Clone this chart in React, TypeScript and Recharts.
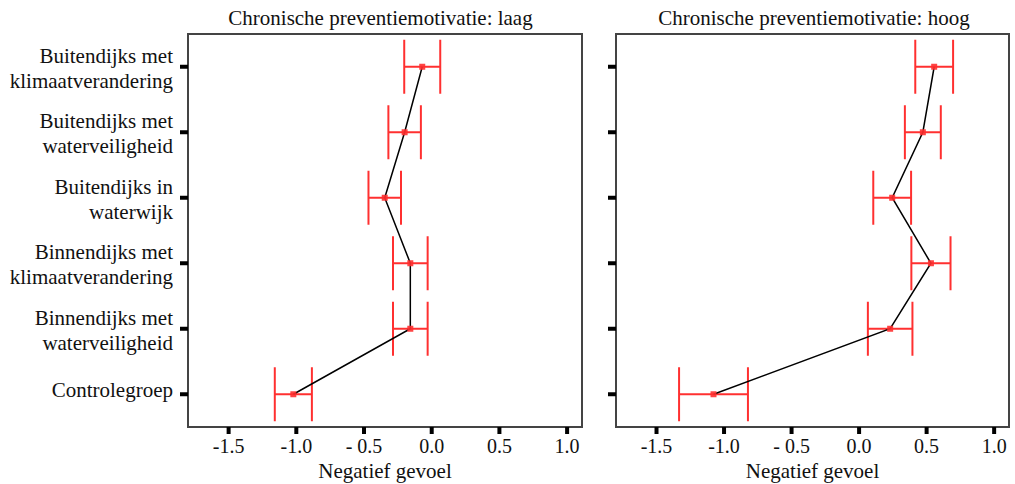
import React from "react";
import {
  ComposedChart,
  ErrorBar,
  Label,
  Line,
  ReferenceArea,
  XAxis,
  YAxis
} from "recharts";

const groups = [
  "Buitendijks met\nklimaatverandering",
  "Buitendijks met\nwaterveiligheid",
  "Buitendijks in\nwaterwijk",
  "Binnendijks met\nklimaatverandering",
  "Binnendijks met\nwaterveiligheid",
  "Controlegroep"
];

const laagMean = [-0.07, -0.2, -0.347, -0.158, -0.158, -1.022];
const laagErr = [0.133, 0.12, 0.12, 0.128, 0.128, 0.137];
const hoogMean = [0.556, 0.472, 0.245, 0.532, 0.23, -1.078];
const hoogErr = [0.14, 0.133, 0.14, 0.145, 0.165, 0.255];

const xTicks = [-1.5, -1.0, -0.5, 0, 0.5, 1.0];
const tickText: Record<string, string> = {
  "-1.5": "-1.5",
  "-1": "-1.0",
  "-0.5": "- 0.5",
  "0": "0.0",
  "0.5": "0.5",
  "1": "1.0"
};

const FONT = '"Liberation Serif", "Times New Roman", serif';
const RED = "#ff3030";

const rows = (means: number[], errs: number[]) =>
  groups.map((g, i) => ({ group: g, mean: means[i], err: errs[i] }));

function GroupTick(props: any) {
  const { x, y, payload } = props;
  const lines = String(payload.value).split("\n");
  const two = lines.length > 1;
  return (
    <text x={x} y={y} textAnchor="end" fontFamily={FONT} fontSize={21} fill="#111">
      {lines.map((l, i) => (
        <tspan key={i} x={x} y={two ? y - 4 + i * 25 : y + 3}>
          {l}
        </tspan>
      ))}
    </text>
  );
}

function SquareDot(props: any) {
  const { cx, cy } = props;
  if (cx == null || cy == null) return null;
  return <rect x={cx - 3} y={cy - 3} width={6} height={6} fill={RED} fillOpacity={0.9} />;
}

function Panel({ means, errs, width, yWidth, right, showLabels }: any) {
  const data = rows(means, errs);
  return (
    <ComposedChart
      width={width}
      height={484}
      data={data}
      layout="vertical"
      margin={{ top: 34, right, bottom: 0, left: 0 }}
    >
      <XAxis
        type="number"
        domain={[-1.8, 1.11]}
        allowDataOverflow
        ticks={xTicks}
        height={57}
        axisLine={false}
        tickSize={7}
        tickMargin={5}
        tickLine={{ stroke: "#000", strokeWidth: 4 }}
        tickFormatter={(v) => tickText[String(v)] ?? String(v)}
        tick={{ fontFamily: FONT, fontSize: 20, fill: "#111" }}
      >
        <Label
          value="Negatief gevoel"
          position="insideBottom"
          offset={6}
          style={{ fontFamily: FONT, fontSize: 21, fill: "#111" }}
        />
      </XAxis>
      <YAxis
        type="category"
        dataKey="group"
        scale="band"
        width={yWidth}
        axisLine={false}
        tickSize={8}
        tickMargin={7}
        tickLine={{ stroke: "#000", strokeWidth: 4 }}
        tick={showLabels ? <GroupTick /> : () => <g />}
        interval={0}
      />
      <ReferenceArea x1={-1.8} x2={1.11} fill="none" stroke="#444" strokeWidth={2} />
      <Line
        dataKey="mean"
        stroke="none"
        dot={<SquareDot />}
        activeDot={false}
        isAnimationActive={false}
      >
        <ErrorBar dataKey="err" direction="x" width={27} stroke={RED} strokeWidth={2} />
      </Line>
      <Line
        dataKey="mean"
        stroke="#000"
        strokeWidth={1.5}
        dot={false}
        activeDot={false}
        isAnimationActive={false}
      />
    </ComposedChart>
  );
}

const titleStyle: React.CSSProperties = {
  position: "absolute",
  top: 8,
  fontFamily: FONT,
  fontSize: 21,
  lineHeight: "20px",
  textAlign: "center",
  color: "#111"
};

export default function App() {
  return (
    <div style={{ position: "absolute", left: 0, top: 0, width: 1015, height: 484, background: "#fff" }}>
      <div style={{ position: "absolute", left: 0, top: 0 }}>
        <Panel means={laagMean} errs={laagErr} width={590} yWidth={188} right={8} showLabels />
      </div>
      <div style={{ position: "absolute", left: 590, top: 0 }}>
        <Panel means={hoogMean} errs={hoogErr} width={425} yWidth={26} right={6} showLabels={false} />
      </div>
      <div style={{ ...titleStyle, left: 180, width: 401 }}>Chronische preventiemotivatie: laag</div>
      <div style={{ ...titleStyle, left: 616, width: 396 }}>Chronische preventiemotivatie: hoog</div>
    </div>
  );
}
